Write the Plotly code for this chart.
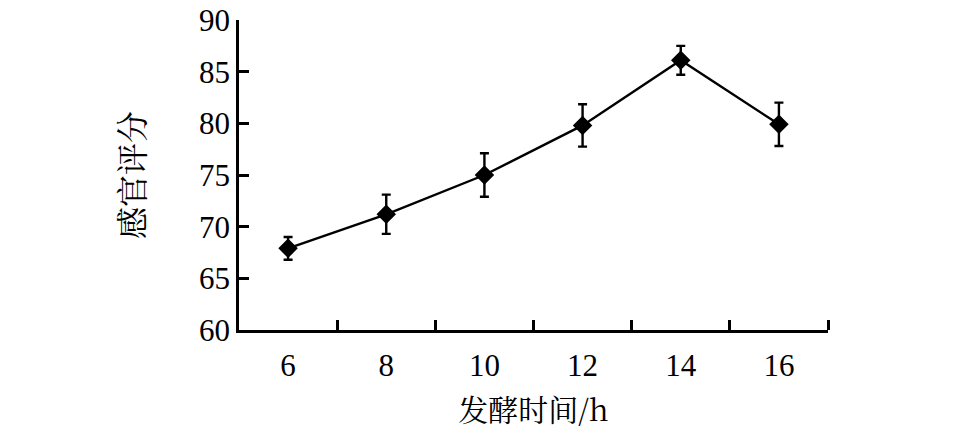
import plotly.graph_objects as go

# Data
time_h = [6, 8, 10, 12, 14, 16]
score = [67.9, 71.2, 75.0, 79.8, 86.1, 79.9]
score_err = [1.1, 1.9, 2.1, 2.05, 1.4, 2.1]

x_labels = [6, 8, 10, 12, 14, 16]
x_minor_ticks = [7, 9, 11, 13, 15, 17]
y_ticks = [60, 65, 70, 75, 80, 85, 90]

fig = go.Figure()
fig.add_trace(go.Scatter(
    x=time_h, y=score,
    mode="lines+markers",
    line=dict(color="black", width=2.4),
    marker=dict(symbol="diamond", size=15, color="black"),
    error_y=dict(type="data", array=score_err, visible=True,
                 color="black", thickness=2.4, width=4.5),
    showlegend=False,
))

serif = "Liberation Serif, Times New Roman, serif"
cjk = "Noto Serif CJK SC, Noto Sans CJK SC, Liberation Serif, serif"

fig.update_layout(
    width=958, height=442,
    margin=dict(l=239, r=130, t=20, b=112),
    paper_bgcolor="white", plot_bgcolor="white",
    font=dict(family=serif, size=31, color="black"),
    xaxis=dict(
        range=[5, 17], automargin=False,
        tickvals=x_labels, ticktext=[str(v) for v in x_labels],
        ticks="", showgrid=False, zeroline=False,
        showline=True, linecolor="black", linewidth=2.5,
        tickfont=dict(family=serif, size=31, color="black"),
        ticklabelstandoff=6, ticklabeloverflow="allow",
        minor=dict(tickvals=x_minor_ticks, ticks="inside", ticklen=10,
                   tickwidth=2.5, tickcolor="black", showgrid=False),
        title=dict(text="发酵时间/h", font=dict(family=cjk, size=30, color="black"),
                   standoff=19),
    ),
    yaxis=dict(
        range=[60, 90], automargin=False,
        tickvals=y_ticks,
        ticks="inside", ticklen=10, tickwidth=2.5, tickcolor="black",
        showgrid=False, zeroline=False,
        showline=True, linecolor="black", linewidth=2.5,
        tickfont=dict(family=serif, size=31, color="black"),
        ticklabeloverflow="allow",
        title=dict(text="感官评分", font=dict(family=cjk, size=32, color="black"),
                   standoff=45),
    ),
)

fig.write_html("out.html", config={"displayModeBar": False},
               post_script="document.body.style.margin='0';")
